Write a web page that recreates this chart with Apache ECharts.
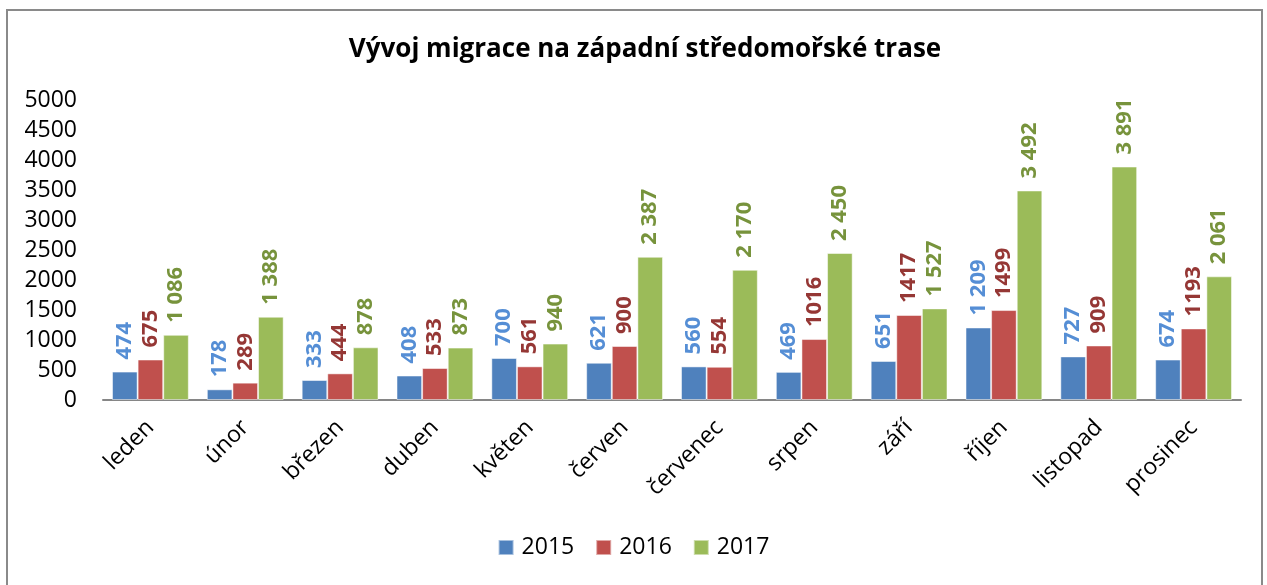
<!DOCTYPE html>
<html>
<head>
<meta charset="utf-8">
<script src="https://cdn.jsdelivr.net/npm/echarts@6/dist/echarts.min.js"></script>
<style>
  html, body { margin: 0; padding: 0; background: #fff; }
  #chart { width: 1267px; height: 585px; }
</style>
</head>
<body>
<div id="chart"></div>
<script>
// Monthly arrivals on the western Mediterranean route
const months = ['leden', 'únor', 'březen', 'duben', 'květen', 'červen', 'červenec', 'srpen', 'září', 'říjen', 'listopad', 'prosinec'];
const years = ['2015', '2016', '2017'];
const values2015 = [474, 178, 333, 408, 700, 621, 560, 469, 651, 1209, 727, 674];
const values2016 = [675, 289, 444, 533, 561, 900, 554, 1016, 1417, 1499, 909, 1193];
const values2017 = [1086, 1388, 878, 873, 940, 2387, 2170, 2450, 1527, 3492, 3891, 2061];
const yTicks = [0, 500, 1000, 1500, 2000, 2500, 3000, 3500, 4000, 4500, 5000];

const FONT = 'Open Sans';
const barColors = ['#4F81BD', '#C0504D', '#9BBB59'];
const labelColors = ['#558ED5', '#953735', '#77933C'];

// thousands grouped with a space (2016 labels are shown without grouping)
const grouped = v => String(v).replace(/\B(?=(\d{3})+(?!\d))/g, ' ');
const plain = v => String(v);
const formats = [grouped, plain, grouped];

const seriesData = [values2015, values2016, values2017];

const chart = echarts.init(document.getElementById('chart'), null, { renderer: 'canvas' });

chart.setOption({
  backgroundColor: '#fff',
  animation: false,
  title: {
    text: 'Vývoj migrace na západní středomořské trase',
    left: 640,
    textAlign: 'center',
    top: 32,
    textStyle: { fontFamily: FONT, fontWeight: 'bold', fontSize: 26, color: '#000' }
  },
  graphic: [{
    type: 'rect',
    shape: { x: 7, y: 10, width: 1255, height: 600 },
    style: { fill: null, stroke: '#8a8a8a', lineWidth: 2 },
    silent: true
  }],
  legend: {
    data: years,
    bottom: 21,
    left: 'center',
    itemWidth: 15,
    itemHeight: 15,
    itemGap: 21,
    icon: 'rect',
    textStyle: { fontFamily: FONT, fontSize: 23, color: '#000', padding: [0, 0, 0, 3] }
  },
  grid: { left: 103, right: 26, top: 100, bottom: 185, containLabel: false },
  xAxis: {
    type: 'category',
    data: months,
    axisLine: { show: true, lineStyle: { color: '#868686', width: 2 } },
    axisTick: { show: false },
    axisLabel: {
      rotate: 45,
      margin: 24,
      interval: 0,
      fontFamily: FONT,
      fontSize: 23,
      color: '#000'
    }
  },
  yAxis: {
    type: 'value',
    min: yTicks[0],
    max: yTicks[yTicks.length - 1],
    interval: yTicks[1] - yTicks[0],
    axisLine: { show: false },
    axisTick: { show: false },
    splitLine: { show: false },
    axisLabel: {
      margin: 26,
      fontFamily: FONT,
      fontSize: 23,
      color: '#000',
      formatter: v => String(v)
    }
  },
  series: years.map((y, i) => ({
    name: y,
    type: 'bar',
    data: seriesData[i],
    barGap: '0%',
    barCategoryGap: '19%',
    itemStyle: { color: barColors[i], borderColor: 'rgba(255,255,255,0.5)', borderWidth: 1 },
    label: {
      show: true,
      position: 'top',
      rotate: 90,
      align: 'left',
      verticalAlign: 'middle',
      distance: 12,
      fontFamily: FONT,
      fontWeight: 'bold',
      fontSize: 22,
      color: labelColors[i],
      formatter: p => formats[i](p.value)
    }
  }))
});
</script>
</body>
</html>
